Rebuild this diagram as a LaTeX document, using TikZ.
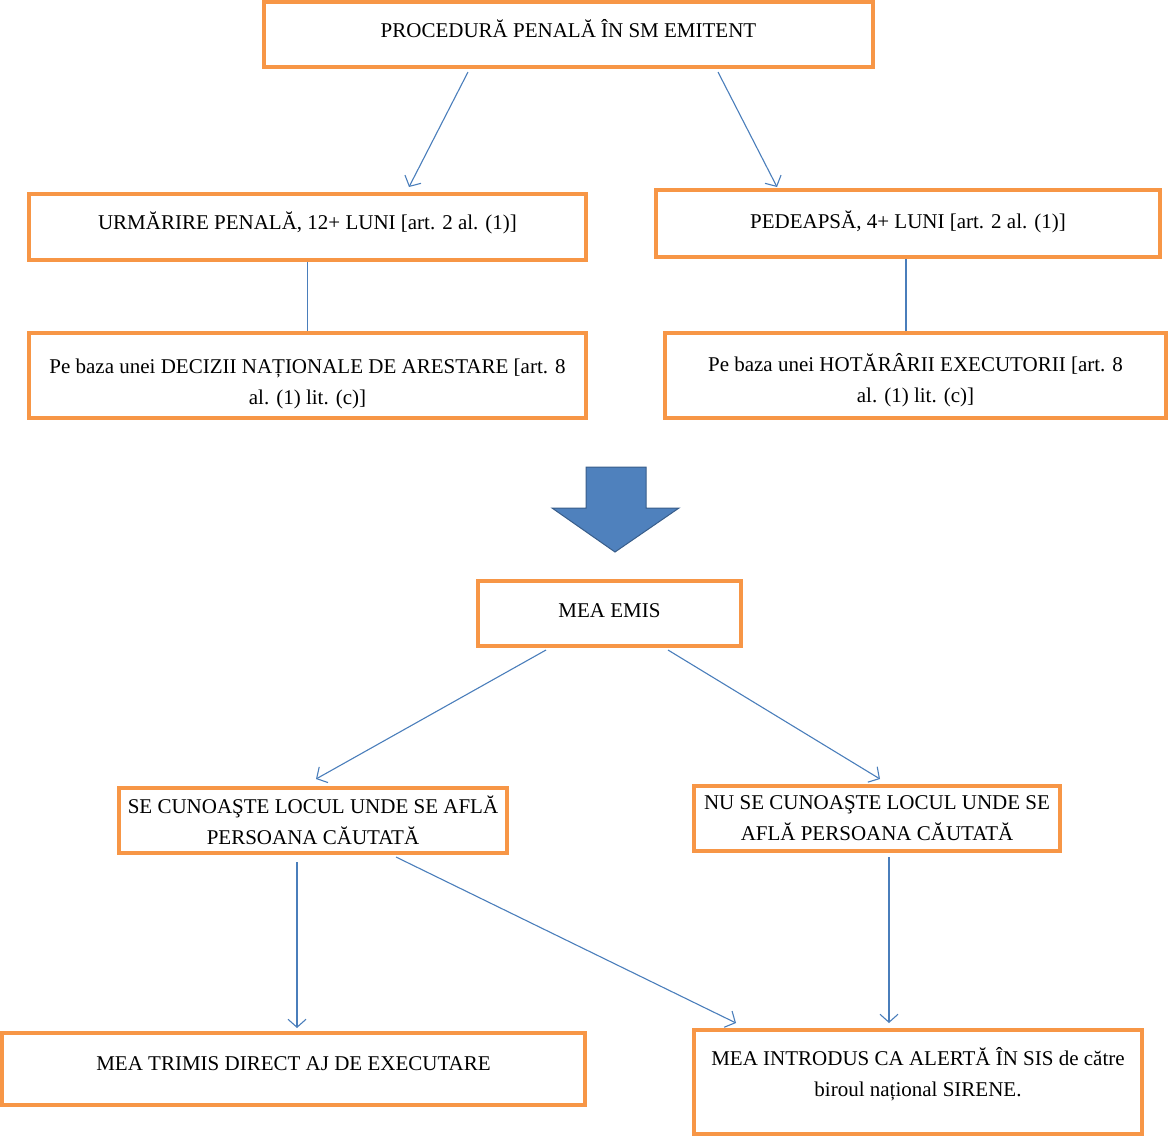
\documentclass[tikz,border=0pt]{standalone}
\usepackage{fontspec}
\setmainfont{Liberation Serif}
\usepackage{tikz}
\usetikzlibrary{arrows.meta,positioning,calc}
\definecolor{boxorange}{HTML}{F79646}
\definecolor{linkblue}{HTML}{4A7EBB}
\definecolor{bigblue}{HTML}{4F81BD}
\definecolor{bigedge}{HTML}{385D8A}
\tikzset{
  stage/.style={draw=boxorange,fill=white,line width=4pt,align=center,
                inner sep=4pt,font=\fontsize{21}{31}\selectfont},
  link/.style={draw=linkblue,line width=1.1pt},
  linkarr/.style={-{Straight Barb[length=8pt,width=18pt]},draw=linkblue,
                  line width=1.1pt}
}
\begin{document}
\begin{tikzpicture}[x=1pt,y=-1pt]
    \useasboundingbox (0,0) rectangle (1168,1136);

    % upper part
    \node[stage,minimum width=609pt,minimum height=65pt,text depth=12pt] (proc) at (568.5,34.5)
      {PROCEDURĂ PENALĂ ÎN SM EMITENT};
    \node[stage,minimum width=557pt,minimum height=66pt,text depth=12.5pt] (urm) at (307.5,227)
      {URMĂRIRE PENALĂ, 12+ LUNI [art. 2 al. (1)]};
    \node[stage,minimum width=504pt,minimum height=67pt,text depth=7pt] (ped) at (908,223.5)
      {PEDEAPSĂ, 4+ LUNI [art. 2 al. (1)]};
    \node[stage,minimum width=557pt,minimum height=85pt,text height=62pt] (dec) at (307.5,375.5)
      {Pe baza unei DECIZII NAȚIONALE DE ARESTARE [art. 8\\ al. (1) lit. (c)]};
    \node[stage,minimum width=501pt,minimum height=85pt,text height=58pt] (hot) at (915.5,375.5)
      {Pe baza unei HOTĂRÂRII EXECUTORII [art. 8\\ al. (1) lit. (c)]};

    \draw[linkarr] ([xshift=-100.5pt,yshift=-3pt]proc.south) -- ([xshift=101.5pt,yshift=5pt]urm.north);
    \draw[linkarr] ([xshift=149.5pt,yshift=-3pt]proc.south) -- ([xshift=-131pt,yshift=1pt]ped.north);
    \draw[link] (urm.south) -- (dec.north);
    \draw[link] ([xshift=-2pt]ped.south) -- ([xshift=-9.5pt]hot.north);

    % big arrow
    \draw[fill=bigblue,draw=bigedge,line width=1pt]
      (586,467) -- (646,467) -- (646,508) -- (679,508) -- (615,552)
      -- (552,508) -- (586,508) -- cycle;

    % lower part
    \node[stage,minimum width=263pt,minimum height=65pt,text depth=6pt] (mea) at (609.5,613.5)
      {MEA EMIS};
    \node[stage,minimum width=388pt,minimum height=65pt] (known) at (313,820.5)
      {SE CUNOAŞTE LOCUL UNDE SE AFLĂ\\ PERSOANA CĂUTATĂ};
    \node[stage,minimum width=366pt,minimum height=65pt] (unknown) at (877,818.5)
      {NU SE CUNOAŞTE LOCUL UNDE SE\\ AFLĂ PERSOANA CĂUTATĂ};
    \node[stage,minimum width=583pt,minimum height=72pt,text depth=10pt] (sent) at (293.5,1069)
      {MEA TRIMIS DIRECT AJ DE EXECUTARE};
    \node[stage,minimum width=448pt,minimum height=104pt,text depth=20pt] (alert) at (918,1082)
      {MEA INTRODUS CA ALERTĂ ÎN SIS de către\\ biroul național SIRENE.};

    \draw[linkarr] ([xshift=-63.5pt,yshift=-2pt]mea.south) -- ([xshift=3pt,yshift=7pt]known.north);
    \draw[linkarr] ([xshift=58.5pt,yshift=-2pt]mea.south) -- ([xshift=3pt,yshift=5pt]unknown.north);
    \draw[linkarr] ([xshift=-16pt,yshift=-7pt]known.south) -- ([xshift=3.5pt,yshift=3pt]sent.north);
    \draw[linkarr] ([xshift=83pt,yshift=-2pt]known.south) -- ([xshift=-182pt,yshift=5pt]alert.north);
    \draw[linkarr] ([xshift=12pt,yshift=-4pt]unknown.south) -- ([xshift=-29pt,yshift=5pt]alert.north);
\end{tikzpicture}
\end{document}
